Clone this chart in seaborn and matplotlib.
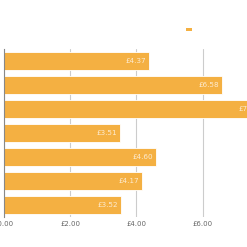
import matplotlib
matplotlib.use("Agg")
import matplotlib.pyplot as plt
import seaborn as sns
import pandas as pd
from matplotlib.patches import Patch

categories = ["Item 1", "Item 2", "Item 3", "Item 4", "Item 5", "Item 6", "Item 7"]
values = [4.37, 6.58, 7.80, 3.51, 4.60, 4.17, 3.52]
xticks = [0, 2, 4, 6]
xtick_labels = ["£0.00", "£2.00", "£4.00", "£6.00"]

df = pd.DataFrame({"category": categories, "value": values})

sns.set_theme(style="white")
plt.rcParams['font.family'] = ['DejaVu Sans']

fig = plt.figure(figsize=(2.47, 2.47), dpi=100)
ax = fig.add_axes([4/247, 1 - 217/247, 243/247, (217-49)/247])

bar_color = "#F4B042"
sns.barplot(data=df, x="value", y="category", orient="h", color=bar_color,
            width=0.72, edgecolor="white", linewidth=0.6, saturation=1, ax=ax, zorder=3)

ax.set_xlim(0, 243/33.1)
ax.set_ylim(6.5, -0.5)
ax.set_xticks(xticks)
ax.set_xticklabels(xtick_labels, fontsize=5, color="#666666")
ax.set_yticks(range(len(categories)))
ax.set_yticklabels([])
ax.tick_params(axis="y", length=0)
ax.tick_params(axis="x", length=0, pad=3)
ax.set_xlabel("")
ax.set_ylabel("")

ax.grid(axis="x", color="#cccccc", linewidth=0.8, zorder=0)
ax.set_axisbelow(True)
for s in ["top", "right", "bottom"]:
    ax.spines[s].set_visible(False)
ax.spines["left"].set_color("#888888")
ax.spines["left"].set_linewidth(0.8)
ax.spines["left"].set_zorder(4)

for i, v in enumerate(values):
    ax.text(v - 0.08, i, f"£{v:.2f}", ha="right", va="center",
            fontsize=5.2, color="#FDEBD0", zorder=5)

leg = fig.legend(handles=[Patch(facecolor=bar_color, edgecolor="none")], labels=[""],
                 loc="center", bbox_to_anchor=(189/247, 1 - 30/247), frameon=False,
                 fontsize=6, handlelength=0.75, handleheight=0.25, borderpad=0,
                 handletextpad=0)

fig.savefig("out.png", dpi=100)
